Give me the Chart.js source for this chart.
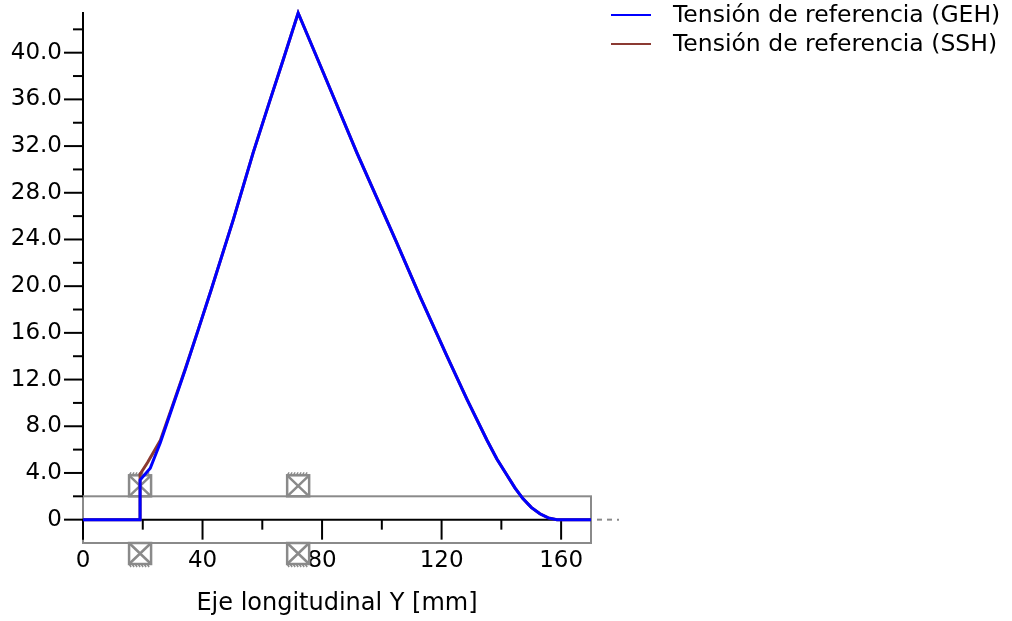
<!DOCTYPE html>
<html>
<head>
  <title>Tensión de referencia</title>
  <script src="https://cdn.jsdelivr.net/npm/chart.js"></script>
  <style>body { margin: 0; background: #fff; }</style>
</head>
<body>
  <canvas id="myChart" width="1012" height="621"></canvas>
  <script>
    // posiciones [mm] y tensiones
    const posGeh = [0, 19.1, 19.1, 22.5, 25.9, 30.0, 34.2, 38.6, 42.9, 50.3, 56.9, 62.3, 67.0, 72.0, 80.4, 91.7, 104.5, 112.8, 121.8, 128.5, 135.2, 138.5, 141.9, 144.6, 147.2, 150.0, 152.9, 155.7, 158.6, 170];
    const valGeh = [0, 0, 3.4, 4.4, 6.6, 9.7, 12.85, 16.3, 19.7, 25.7, 31.4, 35.7, 39.4, 43.4, 38.3, 31.4, 24.0, 19.1, 14.0, 10.3, 6.8, 5.2, 3.8, 2.7, 1.8, 1.05, 0.5, 0.15, 0, 0];
    const posSsh = [0, 19.1, 19.1, 21.6, 25.9, 30.0, 34.2, 38.6, 42.9, 50.3, 56.9, 62.3, 67.0, 72.0, 80.4, 91.7, 104.5, 112.8, 121.8, 128.5, 135.2, 138.5, 141.9, 144.6, 147.2, 150.0, 152.9, 155.7, 158.6, 170];
    const valSsh = [0, 0, 3.9, 4.9, 6.8, 9.8, 12.9, 16.3, 19.7, 25.7, 31.4, 35.7, 39.4, 43.4, 38.3, 31.4, 24.0, 19.1, 14.0, 10.3, 6.8, 5.2, 3.8, 2.7, 1.8, 1.05, 0.5, 0.15, 0, 0];
    const supports = [19.1, 72.0];
    const beamLen = 170;
    const beamHalf = 2;
    const xLabels = ['0', '40', '80', '120', '160'];
    const yLabels = ['0', '4.0', '8.0', '12.0', '16.0', '20.0', '24.0', '28.0', '32.0', '36.0', '40.0'];

    const toPts = (xs, ys) => xs.map((v, i) => ({ x: v, y: ys[i] }));
    const font = { family: 'DejaVu Sans', size: 23 };

    const beamPlugin = {
      id: 'beam',
      beforeDatasetsDraw(chart) {
        const { ctx, scales: { x, y } } = chart;
        const y0 = y.getPixelForValue(0);
        const bx0 = x.getPixelForValue(0), bx1 = x.getPixelForValue(beamLen);
        const by0 = y.getPixelForValue(beamHalf), by1 = y.getPixelForValue(-beamHalf);
        ctx.save();
        ctx.strokeStyle = '#8a8a8a';
        ctx.lineWidth = 2;
        ctx.strokeRect(bx0, by0, bx1 - bx0, by1 - by0);
        // continuacion punteada
        ctx.setLineDash([5, 5]);
        ctx.beginPath();
        ctx.moveTo(bx1 + 6, y0);
        ctx.lineTo(bx1 + 28, y0);
        ctx.stroke();
        // linea cero
        ctx.setLineDash([]);
        ctx.strokeStyle = '#000';
        ctx.beginPath();
        ctx.moveTo(bx0, y0);
        ctx.lineTo(bx1, y0);
        ctx.stroke();
        // marcas eje x
        ctx.lineWidth = 2;
        x.ticks.forEach(t => {
          const px = x.getPixelForValue(t.value);
          const len = t.value % 40 === 0 ? 20 : 10;
          ctx.beginPath();
          ctx.moveTo(px, y0);
          ctx.lineTo(px, y0 + len);
          ctx.stroke();
        });
        // marcas eje y
        y.ticks.forEach(t => {
          if (t.value < 0 || t.value % 2 !== 0) return;
          const py = y.getPixelForValue(t.value);
          const len = t.value % 4 === 0 ? 19 : 10;
          ctx.beginPath();
          ctx.moveTo(x.left - len, py);
          ctx.lineTo(x.left, py);
          ctx.stroke();
        });
        // apoyos
        ctx.strokeStyle = '#8a8a8a';
        supports.forEach(s => {
          const px = x.getPixelForValue(s);
          [[by0 - 21, -1], [by1, 1]].forEach(([top, dir]) => {
            ctx.lineWidth = 2.5;
            ctx.strokeRect(px - 11, top, 22, 21);
            ctx.beginPath();
            ctx.moveTo(px - 11, top); ctx.lineTo(px + 11, top + 21);
            ctx.moveTo(px + 11, top); ctx.lineTo(px - 11, top + 21);
            ctx.stroke();
            const edge = dir < 0 ? top : top + 21;
            ctx.lineWidth = 1.5;
            ctx.beginPath();
            for (let k = px - 11; k <= px + 9; k += 3) {
              ctx.moveTo(k, edge);
              ctx.lineTo(k + 2, edge + dir * 3);
            }
            ctx.stroke();
          });
        });
        ctx.restore();
      },
      afterDraw(chart) {
        const ctx = chart.ctx;
        const lx = chart.chartArea.right + 20;
        ctx.save();
        ctx.font = '23.5px "DejaVu Sans"';
        ctx.textBaseline = 'middle';
        chart.data.datasets.forEach((ds, i) => {
          const ly = 15 + i * 29;
          ctx.strokeStyle = ds.borderColor;
          ctx.lineWidth = 2;
          ctx.beginPath();
          ctx.moveTo(lx, ly);
          ctx.lineTo(lx + 40, ly);
          ctx.stroke();
          ctx.fillStyle = '#000';
          ctx.fillText(ds.label, lx + 62, ly + 1);
        });
        ctx.restore();
      }
    };

    const ctx = document.getElementById('myChart').getContext('2d');
    const chart = new Chart(ctx, {
      type: 'scatter',
      data: {
        datasets: [{
          label: 'Tensión de referencia (GEH)',
          data: toPts(posGeh, valGeh),
          showLine: true,
          borderColor: '#0000ff',
          borderWidth: 3,
          pointRadius: 0,
          clip: false
        }, {
          label: 'Tensión de referencia (SSH)',
          data: toPts(posSsh, valSsh),
          showLine: true,
          borderColor: '#8b3a32',
          borderWidth: 3,
          pointRadius: 0,
          clip: false
        }]
      },
      options: {
        responsive: false,
        animation: false,
        layout: { padding: { left: 0, right: 421, top: 13, bottom: 0 } },
        plugins: {
          legend: { display: false },
          tooltip: { enabled: false }
        },
        scales: {
          x: {
            type: 'linear',
            min: 0,
            max: beamLen,
            grid: { display: false, drawTicks: false },
            border: { display: false },
            title: {
              display: true,
              text: 'Eje longitudinal Y [mm]',
              color: '#000',
              font: { family: 'DejaVu Sans', size: 24 },
              padding: { top: 0, bottom: 3 }
            },
            ticks: {
              stepSize: 20,
              includeBounds: false,
              autoSkip: false,
              maxRotation: 0,
              padding: 4,
              color: '#000',
              font: font,
              callback: v => v % 40 === 0 ? xLabels[v / 40] : ''
            },
            afterFit: s => { s.height = 78; s.paddingLeft = 0; s.paddingRight = 0; }
          },
          y: {
            min: -2,
            max: 43.4,
            grid: { display: false, drawTicks: false },
            border: { display: true, color: '#000', width: 2 },
            ticks: {
              stepSize: 2,
              includeBounds: false,
              autoSkip: false,
              padding: 21,
              color: '#000',
              font: font,
              callback: v => (v >= 0 && v % 4 === 0) ? yLabels[v / 4] : ''
            },
            afterFit: s => { s.width = 83; s.paddingTop = 0; s.paddingBottom = 0; }
          }
        }
      },
      plugins: [beamPlugin]
    });
  </script>
</body>
</html>
